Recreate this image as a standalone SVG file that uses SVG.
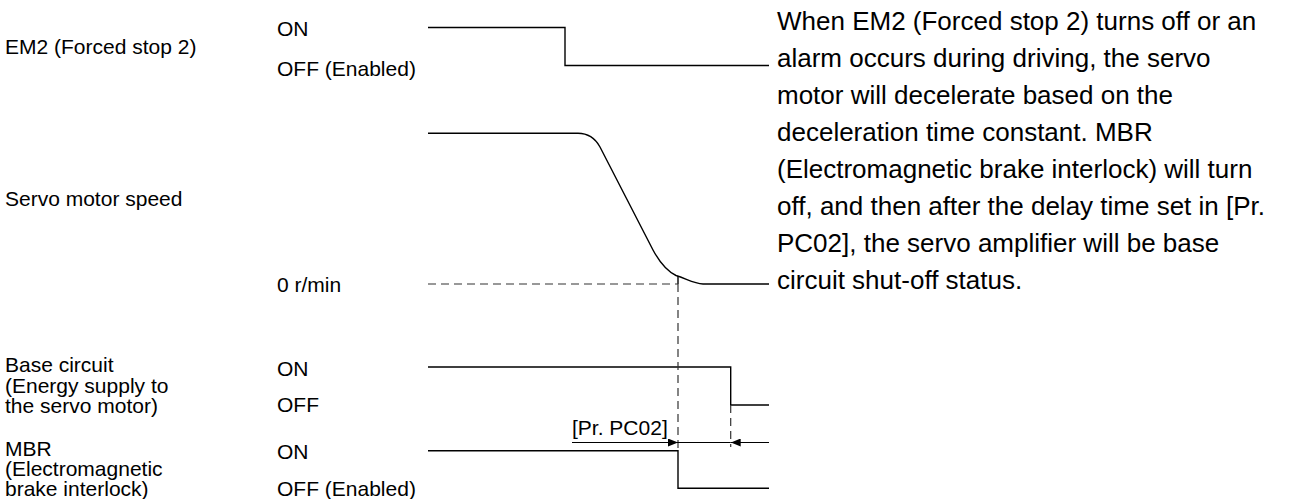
<svg xmlns="http://www.w3.org/2000/svg" width="1293" height="499" viewBox="0 0 1293 499">
<style>
.lbl{font-family:"Liberation Sans",Arial,sans-serif;font-size:21px;fill:#000}
.para{font-family:"Liberation Sans",Arial,sans-serif;font-size:26px;fill:#000}
.sig{fill:none;stroke:#000;stroke-width:1.4}
.dash{fill:none;stroke:#333;stroke-width:1.2;stroke-dasharray:8 5}
.dim{fill:none;stroke:#000;stroke-width:1}
</style>
<defs>
<marker id="ah" viewBox="0 0 10 8" refX="10" refY="4" markerWidth="10" markerHeight="8" markerUnits="userSpaceOnUse" orient="auto">
<path d="M0,0 L10,4 L0,8 z" fill="#000"/>
</marker>
</defs>
<g id="em2">
<text class="lbl" x="5" y="54">EM2 (Forced stop 2)</text>
<text class="lbl" x="277" y="36">ON</text>
<text class="lbl" x="277" y="76">OFF (Enabled)</text>
<path class="sig" d="M428,27.5 H565 V65.5 H769"/>
</g>
<g id="speed">
<text class="lbl" x="5" y="206">Servo motor speed</text>
<text class="lbl" x="277" y="292">0 r/min</text>
<path class="sig" d="M428,133.3 H578 C588,133.3 595,138 600,147 L653,250 C660,263 667,271 676,275.5 C687,279 694,283.5 703,284 H769"/>
<path class="sig" d="M678,276 V284"/>
</g>
<g id="base">
<text class="lbl" x="5" y="372">Base circuit</text>
<text class="lbl" x="5" y="393">(Energy supply to</text>
<text class="lbl" x="5" y="413">the servo motor)</text>
<text class="lbl" x="277" y="376">ON</text>
<text class="lbl" x="277" y="412">OFF</text>
<path class="sig" d="M428,367 H730.7 V405 H769"/>
</g>
<g id="mbr">
<text class="lbl" x="5" y="456">MBR</text>
<text class="lbl" x="5" y="476">(Electromagnetic</text>
<text class="lbl" x="5" y="496">brake interlock)</text>
<text class="lbl" x="277" y="459">ON</text>
<text class="lbl" x="277" y="496">OFF (Enabled)</text>
<path class="sig" d="M428,450.7 H678 V488.3 H769"/>
</g>
<g id="note">
<text class="para" x="777"><tspan x="777" y="30">When EM2 (Forced stop 2) turns off or an</tspan><tspan x="777" y="67">alarm occurs during driving, the servo</tspan><tspan x="777" y="104">motor will decelerate based on the</tspan><tspan x="777" y="141">deceleration time constant. MBR</tspan><tspan x="777" y="178">(Electromagnetic brake interlock) will turn</tspan><tspan x="777" y="215">off, and then after the delay time set in [Pr.</tspan><tspan x="777" y="252">PC02], the servo amplifier will be base</tspan><tspan x="777" y="289">circuit shut-off status.</tspan></text>
</g>
<g id="connectors">
<path class="dash" d="M428,284 H678"/>
<path class="dash" d="M678,284 V450"/>
<path class="dash" d="M730.7,405 V447"/>
<path class="dim" d="M572,442.5 H678" marker-end="url(#ah)"/>
<path class="dim" d="M678,442.5 H730.7"/>
<path class="dim" d="M769,442.5 H730.7" marker-end="url(#ah)"/>
<text class="lbl" x="572" y="435">[Pr. PC02]</text>
</g>
</svg>
